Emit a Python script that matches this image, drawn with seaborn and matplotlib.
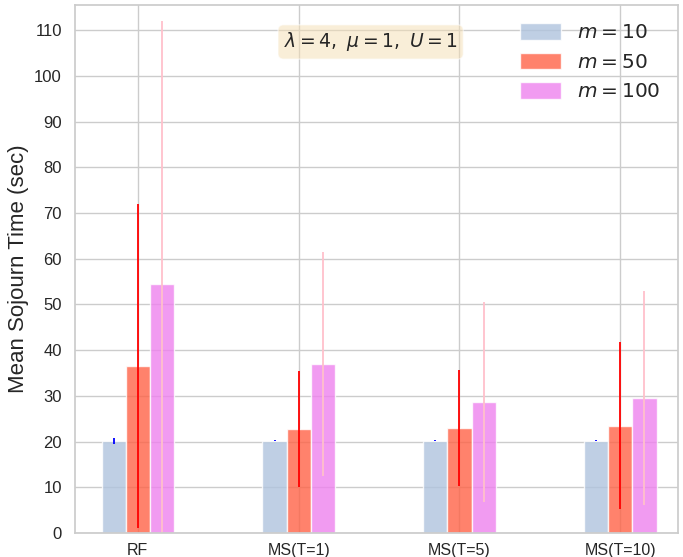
import matplotlib
matplotlib.use("Agg")
import matplotlib.pyplot as plt
import seaborn as sns
import pandas as pd
import numpy as np

categories = ["RF", "MS(T=1)", "MS(T=5)", "MS(T=10)"]
hue_labels = ["$m=10$", "$m=50$", "$m=100$"]
means_m10 = [20.2, 20.2, 20.2, 20.2]
means_m50 = [36.6, 22.8, 22.9, 23.5]
means_m100 = [54.4, 36.9, 28.7, 29.6]
err_m10 = [0.65, 0.1, 0.1, 0.1]
err_m50 = [35.4, 12.7, 12.7, 18.3]
err_m100 = [57.6, 24.5, 21.9, 23.4]
bar_colors = ["lightsteelblue", "tomato", "violet"]
err_colors = ["blue", "red", "pink"]

sns.set_theme(style="whitegrid")
plt.rcParams["font.family"] = ["Liberation Sans", "DejaVu Sans"]

df = pd.DataFrame({
    "cat": categories * 3,
    "m": sum([[h] * 4 for h in hue_labels], []),
    "val": means_m10 + means_m50 + means_m100,
})

fig = plt.figure(figsize=(6.83, 5.57), dpi=100)
ax = fig.add_axes([0.11, 0.043, 0.883, 0.948])
sns.barplot(data=df, x="cat", y="val", hue="m", order=categories,
            hue_order=hue_labels, palette=bar_colors, alpha=0.8, saturation=1,
            width=0.45, errorbar=None, ax=ax, edgecolor="white", linewidth=1)

errs = [err_m10, err_m50, err_m100]
means = [means_m10, means_m50, means_m100]
for cont, e, m, c in zip(ax.containers, errs, means, err_colors):
    xs = [p.get_x() + p.get_width() / 2 for p in cont]
    ax.errorbar(xs, m, yerr=e, fmt="none", ecolor=c, elinewidth=1.3, capsize=0)

ax.set_ylim(0, 115.5)
ax.set_xlim(-0.39, 3.36)
ax.set_yticks(np.arange(0, 111, 10))
ax.set_xlabel("")
ax.set_ylabel("Mean Sojourn Time (sec)", fontsize=16)
ax.tick_params(axis="y", labelsize=12)
ax.tick_params(axis="x", labelsize=11.5, pad=1)
ax.xaxis.grid(True)

ax.text(0.49, 0.93, r"$\lambda=4,\ \mu=1,\ U=1$", transform=ax.transAxes,
        fontsize=13.5, ha="center", va="center",
        bbox=dict(boxstyle="round", facecolor="wheat", alpha=0.5))

leg = ax.legend(loc="upper right", fontsize=14.5, frameon=False, title=None,
                handlelength=2.0, handleheight=0.9)

fig.savefig("out.png", dpi=100)
